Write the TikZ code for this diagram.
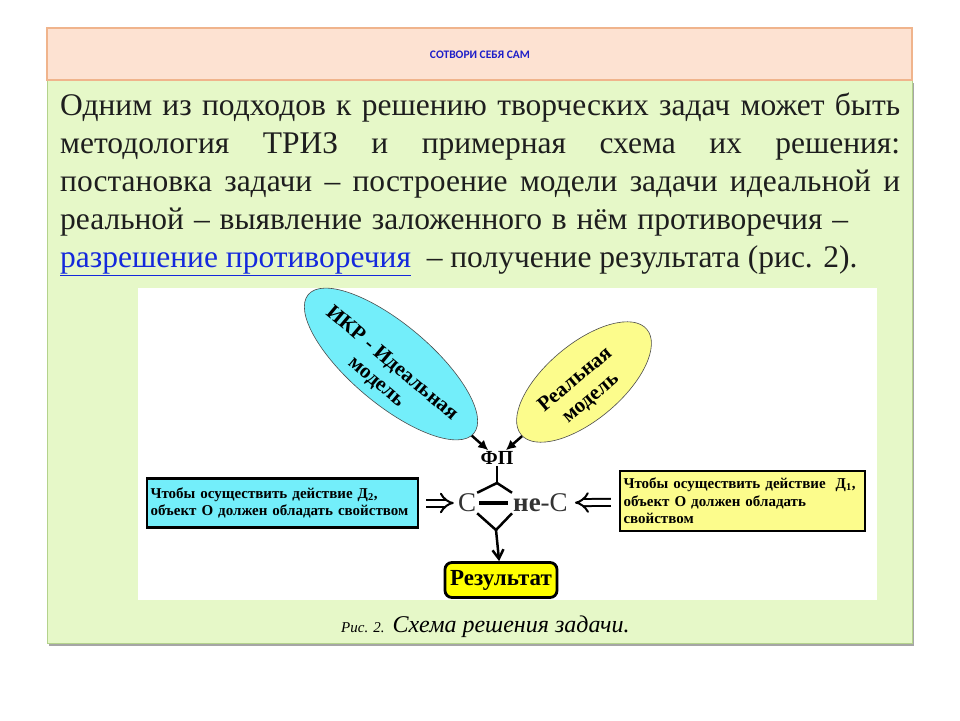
\documentclass[tikz,border=0pt]{standalone}
\usepackage{fontspec}
\setmainfont{Liberation Serif}
\newfontfamily\titlefont{Carlito}
\usetikzlibrary{shapes.geometric,arrows.meta,positioning,calc}

\definecolor{hdrfill}{RGB}{253,226,210}
\definecolor{hdrdraw}{RGB}{240,180,140}
\definecolor{slidefill}{RGB}{230,248,200}
\definecolor{slidedraw}{RGB}{180,210,140}
\definecolor{bodytext}{RGB}{30,30,30}
\definecolor{linkblue}{RGB}{20,40,220}
\definecolor{titleblue}{RGB}{30,30,200}
\definecolor{cyanfill}{RGB}{115,238,250}
\definecolor{paleyellow}{RGB}{252,252,140}
\definecolor{resyellow}{RGB}{255,255,0}

\begin{document}
\begin{tikzpicture}[
    x=1pt, y=-1pt,
    bodyline/.style={anchor=base west, inner sep=0pt, text=bodytext, font=\fontsize{31.5}{38}\selectfont},
    model/.style={ellipse, draw=black!70, line width=0.6pt, inner sep=0pt},
    modeltext/.style={inner sep=0pt, align=center, font=\bfseries\fontsize{21}{24}\selectfont},
    infobox/.style={rectangle, draw, line width=2.2pt, align=left, inner sep=3pt, font=\bfseries\fontsize{15}{17.5}\selectfont},
    sign/.style={inner sep=1pt, font=\fontsize{27}{29}\selectfont, text=black!80},
    fatarrow/.style={-{Latex[length=10pt, width=10pt]}, line width=2.5pt},
    openarrow/.style={-{Straight Barb[length=9pt, width=11pt]}, line width=2.5pt},
    hollow/.style={double, double distance=5pt, line width=2pt, -{Implies}},
    fork/.style={line width=2.5pt}
]
\useasboundingbox (0,0) rectangle (960,720);
\fill[white] (0,0) rectangle (960,720);

% Slide frame
\fill[black!35] (49,83) rectangle (914,646);
\draw[fill=slidefill, draw=slidedraw, line width=1pt] (47,80) rectangle (912,643);
\draw[fill=hdrfill, draw=hdrdraw, line width=1.5pt] (47,28) rectangle (912,80);
\node[text=titleblue, font=\titlefont\bfseries\fontsize{11.5}{13}\selectfont] (title) at (480,55) {СОТВОРИ СЕБЯ САМ};

% Body text
\node[bodyline] (line1) at (60,115) {\makebox[840pt][s]{Одним из подходов к решению творческих задач может быть}};
\node[bodyline] (line2) at (60,153) {\makebox[840pt][s]{методология ТРИЗ и примерная схема их решения:}};
\node[bodyline] (line3) at (60,191) {\makebox[840pt][s]{постановка задачи – построение модели задачи идеальной и}};
\node[bodyline] (line4) at (60,229) {\makebox[788pt][s]{реальной – выявление заложенного в нём противоречия –}};
\node[bodyline] (line5) at (60,267) {{\color{linkblue}\underline{разрешение противоречия}}\ \ – получение результата (рис. 2).};

% Figure
\fill[white] (138,288) rectangle (877,600);

% Models
\node[model, fill=cyanfill, minimum width=216pt, minimum height=80pt, rotate=-40] (ikr) at (391,364) {};
\node[modeltext, rotate=-40] (ikrtext) at ($(ikr.center)+(-7,9)$) {ИКР - Идеальная\\модель};
\node[model, fill=paleyellow, minimum width=164pt, minimum height=76pt, rotate=40] (real) at (584,382) {};
\node[modeltext, rotate=40] (realtext) at ($(real.center)+(-1,7)$) {Реальная\\модель};

% Physical contradiction
\node[inner sep=1pt, font=\bfseries\fontsize{20}{22}\selectfont] (fp) at (497,458) {ФП};
\node[sign] (c) at (467,503) {С};
\node[sign, anchor=west] (notc) at (512,503) {{\bfseries не}-С};
\node[infobox, fill=cyanfill, minimum width=271pt, minimum height=49pt, text width=264pt] (boxl) at (282.5,503) {Чтобы осуществить действие Д\textsubscript{2},\\объект О должен обладать свойством};
\node[infobox, fill=paleyellow, minimum width=245pt, minimum height=60pt, text width=238pt] (boxr) at (742.5,501) {Чтобы осуществить действие \ Д\textsubscript{1},\\объект О должен обладать\\свойством};
\node[draw, fill=resyellow, line width=2.8pt, rounded corners=7pt, minimum width=112pt, minimum height=35pt, inner sep=2pt, font=\bfseries\fontsize{23}{25}\selectfont] (res) at (501,580) {Результат};

\coordinate (split) at (497,483);
\coordinate (join) at (496,530);

% Arrows
\draw[fatarrow] (ikr) -- (fp);
\draw[fatarrow] (real) -- (fp);
\draw[fork] (fp) -- (split);
\draw[fork] (split) -- (c.north east);
\draw[fork] (split) -- (notc.north west);
\draw[line width=4pt, shorten <=2pt, shorten >=4pt] (c) -- (notc);
\draw[fork] (c.south east) -- (join);
\draw[fork] (notc.south west) -- (join);
\draw[openarrow] (join) -- (res);
\draw[hollow, shorten <=7pt, shorten >=3pt] (boxl) -- (c);
\draw[hollow, shorten <=8pt, shorten >=6pt] (boxr) -- (notc);

% Caption
\node[anchor=base west, inner sep=0pt] (caption) at (341,632) {{\itshape\fontsize{15}{17}\selectfont Рис. 2.}\hspace{8pt}{\itshape\fontsize{24}{26}\selectfont Схема решения задачи.}};
\end{tikzpicture}
\end{document}
